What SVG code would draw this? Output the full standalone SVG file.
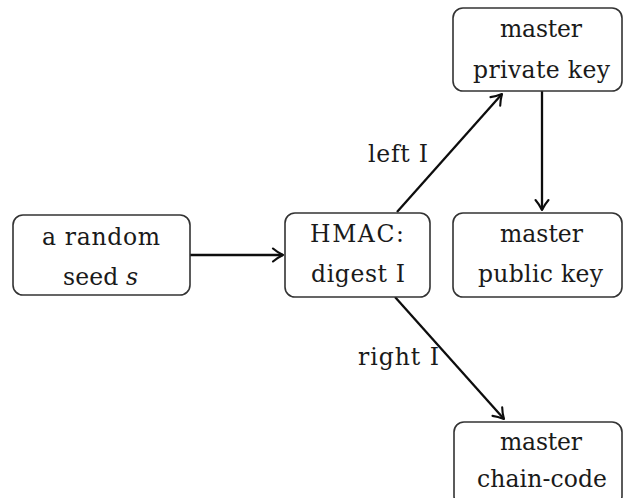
<svg xmlns="http://www.w3.org/2000/svg" width="623" height="498" viewBox="0 0 623 498">
  <style>
    .box { fill: #ffffff; stroke: #333333; stroke-width: 1.6; }
    .lbl { font-family: "DejaVu Serif", "Liberation Serif", serif; font-size: 23.5px; fill: #1a1a1a; text-anchor: middle; }
    .edge { stroke: #0d0d0d; stroke-width: 2.3; fill: none; marker-end: url(#tip); }
  </style>
  <defs>
    <!-- open, curved-barb arrow tip -->
    <marker id="tip" markerUnits="userSpaceOnUse" markerWidth="16" markerHeight="16" viewBox="-12 -8 14 16" refX="0" refY="0" orient="auto" overflow="visible">
      <path d="M -10,-6.5 C -6,-3 -2,-1 0,0 C -2,1 -6,3 -10,6.5" fill="none" stroke="#0d0d0d" stroke-width="2.1" stroke-linecap="round" stroke-linejoin="round"/>
    </marker>
  </defs>

  <rect width="623" height="498" fill="#ffffff"/>

  <g id="connectors">
    <line class="edge" x1="190" y1="255" x2="283" y2="255"/>
    <line class="edge" x1="397" y1="212" x2="502" y2="94"/>
    <line class="edge" x1="542" y1="91" x2="542" y2="210"/>
    <line class="edge" x1="395" y1="297" x2="504" y2="419"/>
    <text class="lbl" x="398" y="162" textLength="60">left I</text>
    <text class="lbl" x="398.5" y="365" textLength="81">right I</text>
  </g>

  <g id="seed">
    <rect class="box" x="13" y="215" width="177" height="80" rx="10"/>
    <text class="lbl" x="101" y="245" textLength="118">a random</text>
    <text class="lbl" x="100.5" y="285" textLength="75">seed <tspan font-style="italic">s</tspan></text>
  </g>

  <g id="hmac">
    <rect class="box" x="285" y="213" width="145" height="84" rx="10"/>
    <text class="lbl" x="357" y="242" textLength="94">HMAC:</text>
    <text class="lbl" x="358" y="282" textLength="94">digest I</text>
  </g>

  <g id="private-key">
    <rect class="box" x="453" y="8" width="169" height="83" rx="10"/>
    <text class="lbl" x="541" y="37" textLength="82">master</text>
    <text class="lbl" x="541.5" y="78" textLength="137">private key</text>
  </g>

  <g id="public-key">
    <rect class="box" x="453" y="213" width="169" height="84" rx="10"/>
    <text class="lbl" x="541.5" y="242" textLength="83">master</text>
    <text class="lbl" x="540.5" y="282" textLength="125">public key</text>
  </g>

  <g id="chain-code">
    <rect class="box" x="454" y="422" width="168" height="84" rx="10"/>
    <text class="lbl" x="541" y="450" textLength="82">master</text>
    <text class="lbl" x="542" y="487" textLength="130">chain-code</text>
  </g>
</svg>
